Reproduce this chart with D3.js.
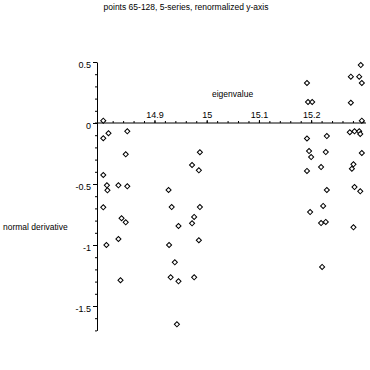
<!DOCTYPE html>
<html>
<head>
<meta charset="utf-8">
<script src="https://cdn.jsdelivr.net/npm/d3@7"></script>
<style>
  body { margin: 0; background: #fff; }
  text { font-family: "Liberation Sans", Arial, sans-serif; fill: #000; }
</style>
</head>
<body>
<div class="canvas"></div>
<script>
// points 65-128 (eigenvalue, normal derivative)
var eigenvalues = [
  14.802, 14.812, 14.848, 14.802, 14.845, 14.802, 14.809, 14.831,
  14.848, 14.810, 14.802, 14.837, 14.845, 14.831, 14.808, 14.835,
  14.987, 14.972, 14.985, 14.927, 14.933, 14.987, 14.976, 14.972,
  14.946, 14.985, 14.928, 14.939, 14.931, 14.976, 14.946, 14.943,
  15.192, 15.194, 15.202, 15.192, 15.230, 15.196, 15.200, 15.228,
  15.192, 15.219, 15.230, 15.223, 15.198, 15.219, 15.228, 15.221,
  15.295, 15.276, 15.292, 15.297, 15.276, 15.297, 15.274, 15.283,
  15.292, 15.294, 15.297, 15.281, 15.278, 15.283, 15.294, 15.281
];
var normalDerivs = [
  0.019, -0.084, -0.068, -0.125, -0.257, -0.426, -0.511, -0.511,
  -0.519, -0.552, -0.691, -0.781, -0.814, -0.951, -1.000, -1.289,
  -0.240, -0.344, -0.388, -0.549, -0.689, -0.689, -0.770, -0.822,
  -0.844, -0.961, -1.000, -1.142, -1.265, -1.265, -1.298, -1.650,
  0.328, 0.172, 0.172, -0.127, -0.107, -0.230, -0.279, -0.238,
  -0.393, -0.361, -0.549, -0.680, -0.730, -0.820, -0.811, -1.180,
  0.475, 0.380, 0.380, 0.328, 0.166, 0.019, -0.076, -0.068,
  -0.068, -0.090, -0.246, -0.339, -0.375, -0.525, -0.560, -0.855
];
var xTicks = [14.9, 15, 15.1, 15.2];
var yTicks = [0.5, 0, -0.5, -1, -1.5];
var yTickLabels = ["0.5", "0", "-0.5", "-1", "-1.5"];

var data = eigenvalues.map(function(d, i) { return {x: d, y: normalDerivs[i]}; });

var svgWidth = 370, svgHeight = 370;
const svg = d3.select(".canvas").append("svg")
            .attr("width", svgWidth)
            .attr("height", svgHeight);

var xScale = d3.scaleLinear().domain([14.79, 15.305]).range([97, 366]);
var yScale = d3.scaleLinear().domain([-1.7, 0.5]).range([330.4, 62]);
var y0 = yScale(0);

// title
svg.append("text")
   .text("points 65-128, 5-series, renormalized y-axis")
   .attr("x", 186).attr("y", 10)
   .attr("text-anchor", "middle")
   .attr("font-size", 8.5);

// x axis (crosses at y = 0), minor ticks every 0.02
svg.append("g")
   .attr("transform", "translate(0," + y0 + ")")
   .call(d3.axisTop(xScale).tickValues(d3.range(14.8, 15.301, 0.02)).tickSize(2).tickFormat("").tickSizeOuter(0))
   .call(g => g.select(".domain").remove());
svg.append("g")
   .attr("transform", "translate(0," + y0 + ")")
   .call(d3.axisTop(xScale).tickValues(xTicks).tickSize(3).tickPadding(2).tickSizeOuter(0)
          .tickFormat(function(d) { return d3.format("")(d); }))
   .call(g => g.select(".domain").attr("d", "M" + (xScale.range()[0] - 2) + ",0H" + xScale.range()[1]))
   .call(g => g.selectAll("text").attr("font-size", 9).attr("font-family", null));

// y axis, minor ticks every 0.1
svg.append("g")
   .attr("transform", "translate(" + xScale.range()[0] + ",0)")
   .call(d3.axisLeft(yScale).tickValues(d3.range(-17, 6).map(function(d) { return d / 10; })).tickSize(2).tickFormat("").tickSizeOuter(0))
   .call(g => g.select(".domain").remove());
svg.append("g")
   .attr("transform", "translate(" + xScale.range()[0] + ",0)")
   .call(d3.axisLeft(yScale).tickValues(yTicks).tickSize(4).tickPadding(2).tickSizeOuter(0)
          .tickFormat(function(d, i) { return yTickLabels[i]; }))
   .call(g => g.selectAll("text").attr("font-size", 9).attr("font-family", null).attr("dy", "0.6em"));

// axis labels
svg.append("text")
   .text("eigenvalue")
   .attr("x", 212).attr("y", 97)
   .attr("font-size", 8.5);
svg.append("text")
   .text("normal derivative")
   .attr("x", 3).attr("y", 230)
   .attr("font-size", 8.5);

// points as small open diamonds
svg.selectAll("path.pt")
   .data(data)
   .enter().append("path")
   .attr("class", "pt")
   .attr("d", d3.symbol().type(d3.symbolSquare).size(13))
   .attr("transform", function(d) { return "translate(" + xScale(d.x) + "," + yScale(d.y) + ") rotate(45)"; })
   .attr("fill", "#fff")
   .attr("stroke", "#000")
   .attr("stroke-width", 1);
</script>
</body>
</html>
